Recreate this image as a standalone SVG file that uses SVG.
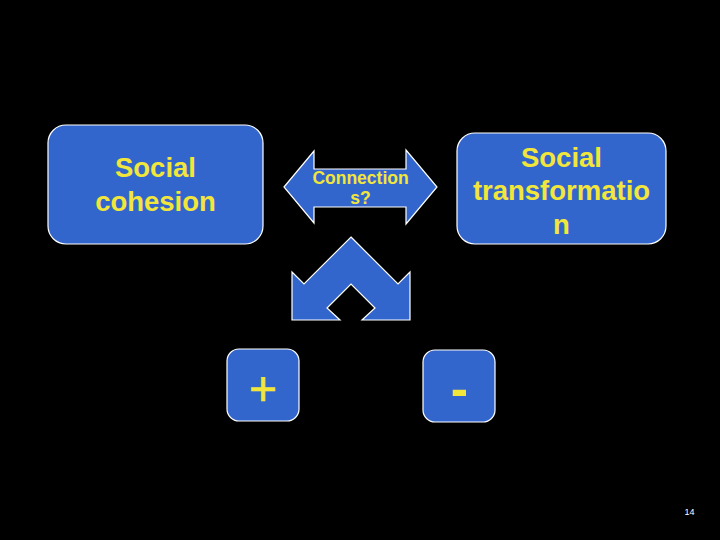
<svg xmlns="http://www.w3.org/2000/svg" width="720" height="540" viewBox="0 0 720 540">
<style>
.shape{fill:#3366CC;stroke:#FFFFFF;stroke-width:1.2;stroke-linejoin:miter}
.t{font-family:"Liberation Sans",Arial,sans-serif;font-weight:bold;fill:#F2E63A;text-anchor:middle}
.big{font-size:27.5px}
.small{font-size:17.5px}
.plus{font-size:48px;font-weight:normal;stroke:#F2E63A;stroke-width:0.6}
.minus{font-size:52px}
.pg{font-family:"Liberation Sans",Arial,sans-serif;font-size:9px;fill:#FFFFFF;text-anchor:middle}
</style>
<rect width="720" height="540" fill="#000000"/>
<g id="social-cohesion">
<rect class="shape" x="48" y="125" width="215" height="119" rx="18" ry="18"/>
<text class="t big" x="155.5" y="177">Social</text>
<text class="t big" x="155.5" y="211">cohesion</text>
</g>
<g id="social-transformation">
<rect class="shape" x="457" y="133" width="209" height="111" rx="18" ry="18"/>
<text class="t big" x="561.5" y="167">Social</text>
<text class="t big" x="561.5" y="200">transformatio</text>
<text class="t big" x="561.5" y="233.5">n</text>
</g>
<g id="plus">
<rect class="shape" x="227" y="349" width="72" height="72" rx="12" ry="12"/>
<text class="t plus" x="263" y="404.5">+</text>
</g>
<g id="minus">
<rect class="shape" x="423" y="350" width="72" height="72" rx="12" ry="12"/>
<text class="t minus" x="459.5" y="405.5">-</text>
</g>
<g id="connectors">
<g id="connections">
<polygon class="shape" points="284,187 314,151 314,169 406,169 406,150 437,187 406,224 406,207 314,207 314,223"/>
<text class="t small" x="360.5" y="183.5">Connection</text>
<text class="t small" x="360.5" y="204">s?</text>
</g>
<polygon id="split-arrow" class="shape" points="351,237 398,284 410,272 410,320 362,320 375,308 351,284 327,308 340,320 292,320 292,272 304,284"/>
</g>
<text class="pg" x="689.5" y="514.5">14</text>
</svg>
